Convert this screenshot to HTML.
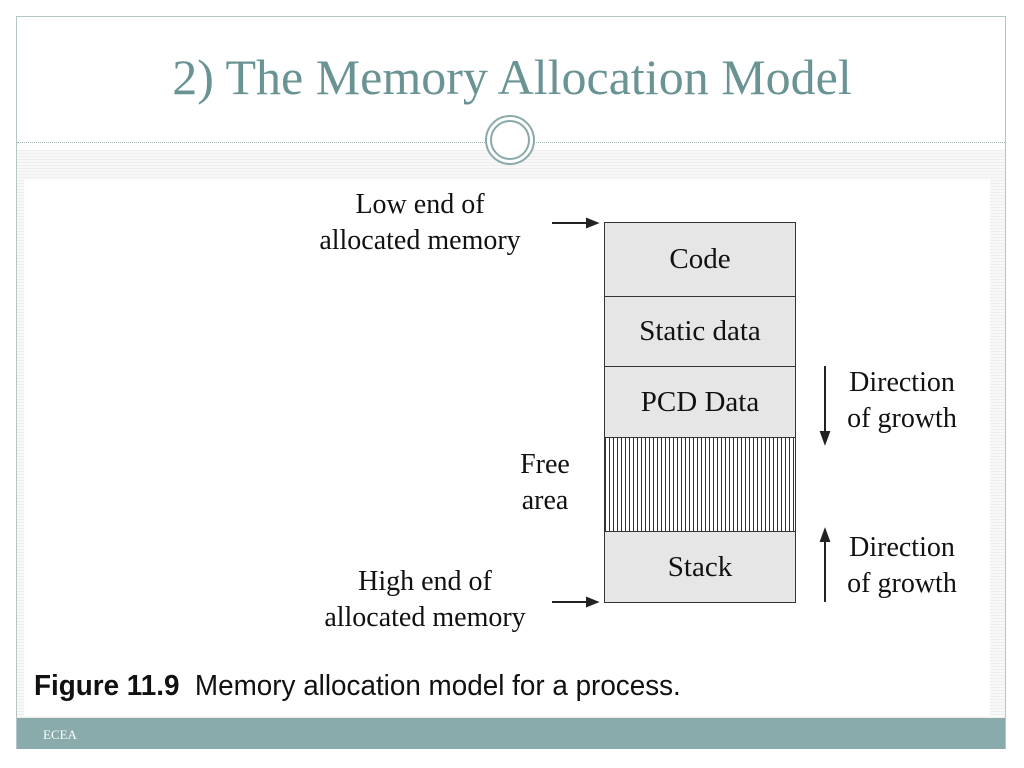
<!DOCTYPE html>
<html><head><style>
body{margin:0;width:1024px;height:768px;background:#fff;position:relative;overflow:hidden;font-family:"Liberation Serif",serif}
.frame{position:absolute;left:16px;top:16px;width:990px;height:733px;border:1px solid #b5c4c4;box-sizing:border-box}
.title{position:absolute;left:0;width:1024px;top:48px;text-align:center;font-size:50px;color:#6a9394}
.hl{position:absolute;left:17px;width:988px;top:142px;border-top:1px dotted #9cb3b3}
.band{position:absolute;left:17px;width:988px;top:150px;height:568px;background:repeating-linear-gradient(0deg,#eeeeee 0 1px,#f8f8f8 1px 3px)}
.img{position:absolute;left:24px;top:180px;width:966px;height:536px;background:#fff}
.circ{position:absolute;left:485px;top:115px;width:50px;height:50px;border-radius:50%;background:#fff;border:2px solid #8aa9a9;box-sizing:border-box}
.circ2{position:absolute;left:490px;top:120px;width:40px;height:40px;border-radius:50%;border:2px solid #8aa9a9;box-sizing:border-box}
.foot{position:absolute;left:17px;top:718px;width:988px;height:31px;background:#8aabab;color:#fff;font-size:13px}
.foot span{position:absolute;left:26px;top:9px}
.t{position:absolute;font-size:28px;color:#111;text-align:center;line-height:36px;white-space:nowrap}
.box{position:absolute;left:604px;width:192px;border:1.5px solid #333;box-sizing:border-box;background:#e6e6e6;font-size:29px;text-align:center;color:#111}
.cap{position:absolute;left:34px;top:670px;font-family:"Liberation Sans",sans-serif;font-size:29px;color:#111;transform:scaleX(0.96);transform-origin:left;white-space:nowrap}
</style></head><body>
<div class="frame"></div>
<div class="title">2) The Memory Allocation Model</div>
<div class="band"></div>
<div class="img"></div>
<div class="hl"></div>
<div class="circ"></div><div class="circ2"></div>
<div class="t" style="left:300px;top:187px;width:240px">Low end of<br>allocated memory</div>
<div class="t" style="left:305px;top:564px;width:240px">High end of<br>allocated memory</div>
<div class="t" style="left:505px;top:447px;width:80px">Free<br>area</div>
<div class="t" style="left:832px;top:365px;width:140px">Direction<br>of growth</div>
<div class="t" style="left:832px;top:530px;width:140px">Direction<br>of growth</div>
<div class="box" style="top:222px;height:75px;line-height:73px">Code</div>
<div class="box" style="top:296px;height:71px;line-height:69px">Static data</div>
<div class="box" style="top:366px;height:72px;line-height:70px">PCD Data</div>
<div class="box" style="top:437px;height:95px;background:repeating-linear-gradient(90deg,#333 0 1px,#fff 1px 4px)"></div>
<div class="box" style="top:531px;height:72px;line-height:70px">Stack</div>
<svg style="position:absolute;left:0;top:0" width="1024" height="768">
<g stroke="#222" stroke-width="2" fill="#222">
<line x1="552" y1="223" x2="590" y2="223"/><polygon points="597,223 587,219 587,227"/>
<line x1="552" y1="602" x2="590" y2="602"/><polygon points="597,602 587,598 587,606"/>
<line x1="825" y1="366" x2="825" y2="435"/><polygon points="825,443 821,432 829,432"/>
<line x1="825" y1="538" x2="825" y2="602"/><polygon points="825,530 821,541 829,541"/>
</g></svg>
<div class="cap"><b>Figure 11.9</b>&nbsp; Memory allocation model for a process.</div>
<div class="foot"><span>ECEA</span></div>
</body></html>
